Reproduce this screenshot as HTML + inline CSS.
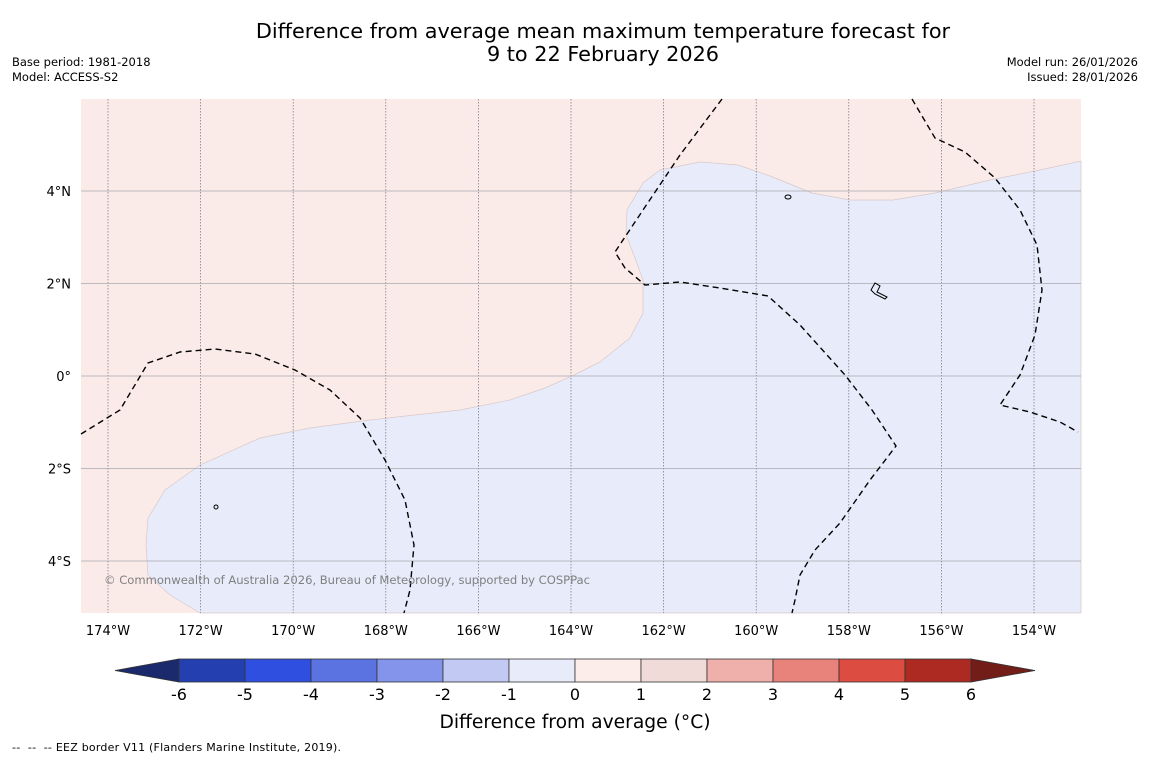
<!DOCTYPE html>
<html><head><meta charset="utf-8"><style>
body{margin:0;background:#fff;width:1150px;height:758px;overflow:hidden;font-family:"Liberation Sans","DejaVu Sans",sans-serif}
svg text{font-family:"DejaVu Sans","Liberation Sans",sans-serif}
</style></head><body>
<svg width="1150" height="758">
<text x="603" y="38" text-anchor="middle" font-size="20.8">Difference from average mean maximum temperature forecast for</text>
<text x="603" y="61" text-anchor="middle" font-size="20.8">9 to 22 February 2026</text>
<text x="12" y="66" font-size="11.5">Base period: 1981-2018</text>
<text x="12" y="81" font-size="11.5">Model: ACCESS-S2</text>
<text x="1138" y="66" font-size="11.5" text-anchor="end">Model run: 26/01/2026</text>
<text x="1138" y="81" font-size="11.5" text-anchor="end">Issued: 28/01/2026</text>
<g id="map">
<rect x="81" y="99" width="1000" height="514" fill="#fbebe8"/>
<polygon fill="#e8ebfa" stroke="#d8c8c8" stroke-width="0.7" points="200,613 170,595 148,575 146,545 148,518 165,490 200,465 260,438 310,428 370,420 460,410 510,400 545,388 572,376 600,362 630,338 643,313 643,280 635,258 626,235 627,210 643,183 660,170 700,162 738,165 770,176 812,193 850,200 893,200 935,193 990,180 1040,170 1081,161 1081,613"/>
<g id="grid"></g>
<polyline fill="none" stroke="#000" stroke-width="1.4" stroke-dasharray="6,4" points="81,434 120,410 148,363 180,352 215,349 255,354 295,370 330,390 360,418 385,460 405,500 414,545 410,590 404,613"/>
<polyline fill="none" stroke="#000" stroke-width="1.4" stroke-dasharray="6,4" points="722,99 680,155 643,210 615,252 625,268 645,285 680,282 720,288 768,296 800,325 845,375 872,410 896,446 870,480 840,523 815,550 800,575 795,600 792,613"/>
<polyline fill="none" stroke="#000" stroke-width="1.4" stroke-dasharray="6,4" points="912,99 935,138 965,152 995,178 1020,210 1037,245 1042,290 1035,335 1020,375 1000,405 1030,412 1060,422 1078,432"/>
<ellipse cx="788" cy="197" rx="3" ry="2" fill="none" stroke="#000"/>
<path d="M871,290 l4,-7 5,3 -3,6 10,5 -2,2 -10,-5z" fill="none" stroke="#000"/>
<ellipse cx="216" cy="507" rx="2" ry="2" fill="none" stroke="#000"/>
<text x="104" y="584" font-size="11.6" fill="#808080" textLength="486">© Commonwealth of Australia 2026, Bureau of Meteorology, supported by COSPPac</text>
</g>
<g id="axes"></g>
<g id="cbar"></g>
<text x="575" y="728" text-anchor="middle" font-size="18.7">Difference from average (°C)</text>
<text x="12" y="751" font-size="11" xml:space="preserve" textLength="329">--  --  -- EEZ border V11 (Flanders Marine Institute, 2019).</text>
</svg>
<script>
const lonTicks=[-174,-172,-170,-168,-166,-164,-162,-160,-158,-156,-154];
const latTicks=[4,2,0,-2,-4];
const cbarLevels=[-6,-5,-4,-3,-2,-1,0,1,2,3,4,5,6];
const cbarColors=["#2440b0","#2e4fdf","#5a73e0","#8394ea","#c2c9f2","#e8ebfa","#fcecea","#f0dbd9","#efafab","#e8837c","#dc4c40","#ac2a22"];
const NS="http://www.w3.org/2000/svg";
function xLon(l){return 108+(l+174)*46.3;}
function yLat(l){return 376-l*46.25;}
function mk(t,a,p){const e=document.createElementNS(NS,t);for(const k in a)e.setAttribute(k,a[k]);p.appendChild(e);return e;}
const grid=document.getElementById('grid'),axes=document.getElementById('axes'),cb=document.getElementById('cbar');
lonTicks.forEach(l=>{const x=xLon(l);
 const g=mk('line',{x1:x,x2:x,y1:99,y2:613,stroke:'#707080','stroke-width':0.7,'stroke-dasharray':'1.5,1.5'},grid);
 
 
 const t=mk('text',{x:x,y:635,'text-anchor':'middle','font-size':13},axes);
 t.textContent=Math.abs(l)+'°W';
 
 });
latTicks.forEach(l=>{const y=yLat(l);
 const g=mk('line',{x1:81,x2:1081,y1:y,y2:y,stroke:'#a8a8b0','stroke-width':0.8},grid);
 
 
 const t=mk('text',{x:71,y:y+5,'text-anchor':'end','font-size':13},axes);
 t.textContent=l===0?'0°':Math.abs(l)+'°'+(l>0?'N':'S');
 
 });
function xC(v){return 575+v*66;}
const y0=659,y1=682;
let tl=mk('polygon',{points:`${xC(-6)},${y0} ${xC(-6)},${y1} 115,${(y0+y1)/2}`,fill:'#1a2a6c',stroke:'#333','stroke-width':0.8},cb);


let tr=mk('polygon',{points:`${xC(6)},${y0} ${xC(6)},${y1} 1035,${(y0+y1)/2}`,fill:'#731d18',stroke:'#333','stroke-width':0.8},cb);


cbarColors.forEach((c,i)=>{const a=xC(cbarLevels[i]),b=xC(cbarLevels[i+1]);
 const r=mk('rect',{x:a,y:y0,width:b-a,height:y1-y0,fill:c,stroke:'#333','stroke-width':0.8},cb);
 
 });
cbarLevels.forEach(v=>{const t=mk('text',{x:xC(v),y:700,'text-anchor':'middle','font-size':16},cb);
 t.textContent=v;
 
 });
</script>
</body></html>
